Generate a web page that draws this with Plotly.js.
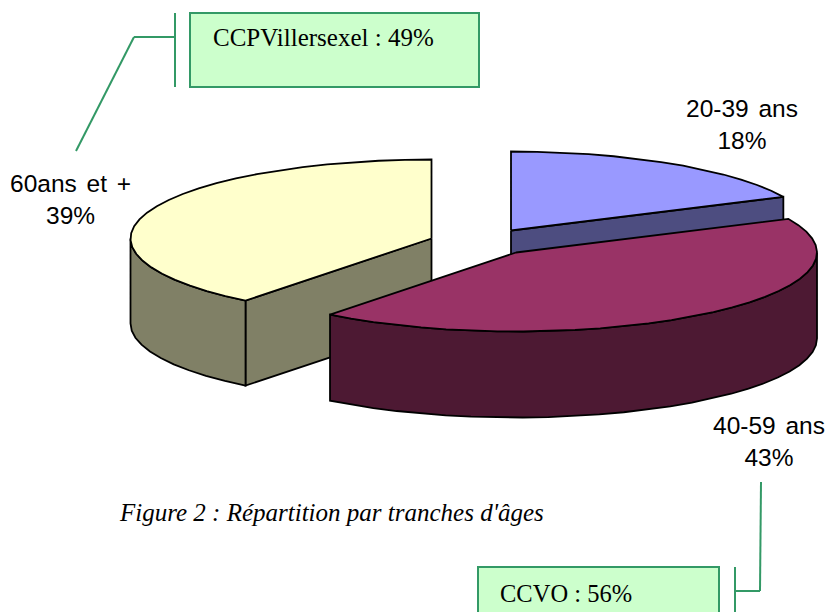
<!DOCTYPE html>
<html>
<head>
<meta charset="utf-8">
<script src="https://cdn.plot.ly/plotly-3.0.1.min.js"></script>
<style>
html,body{margin:0;padding:0;background:#fff;overflow:hidden}
#chart{width:825px;height:612px}
.annotation-text{word-spacing:3px}
.annotation-text[style*="Serif"]{word-spacing:0}
</style>
</head>
<body>
<div id="chart"></div>
<script>
// Data
var categories = ['20-39 ans', '40-59 ans', '60ans et +'];
var shares = [18, 42.6, 39.4];
var callouts = ['CCPVillersexel : 49%', 'CCVO : 56%'];
var caption = "Figure 2 : Répartition par tranches d'âges";

// Styles
var topColors = ['#9999FF', '#993366', '#FFFFCC'];
var sideColors = ['#4D4D80', '#4D1933', '#808066'];
var boxFill = '#CCFFCC', boxLine = '#339966';
var labelFont = {family: '"Liberation Sans", Arial, sans-serif', size: 24.5, color: '#000'};
var serif = '"Liberation Serif", "Times New Roman", serif';

// Pie projection: each exploded slice has its own centre on the page
var sliceCx = [511, 516, 431.5], sliceCy = [230.5, 252.5, 238.5];
var radiusX = 301, radiusY = 79, depth = 85;
var STEP = 5;

function pt(i, deg, dy) {
  var r = deg * Math.PI / 180;
  return [sliceCx[i] + radiusX * Math.sin(r), sliceCy[i] - radiusY * Math.cos(r) + (dy || 0)];
}
function arc(i, a0, a1, dy) {
  var out = [], n = Math.max(1, Math.round(Math.abs(a1 - a0) / STEP));
  for (var k = 0; k <= n; k++) out.push(pt(i, a0 + (a1 - a0) * k / n, dy));
  return out;
}
function poly(points, color) {
  var xs = points.map(function (p) { return p[0]; });
  var ys = points.map(function (p) { return p[1]; });
  xs.push(xs[0]); ys.push(ys[0]);
  return {x: xs, y: ys, type: 'scatter', mode: 'lines', fill: 'toself', fillcolor: color,
    line: {color: '#000', width: 1.8}, hoverinfo: 'skip', showlegend: false};
}

var total = shares.reduce(function (a, b) { return a + b; }, 0), cum = 0;
var spans = shares.map(function (v) {
  var s = [cum / total * 360, (cum + v) / total * 360]; cum += v; return s;
});
function centre(i, dy) { return [sliceCx[i], sliceCy[i] + (dy || 0)]; }

var traces = [];
// 60 ans et + (back-left, drawn first)
(function () {
  var i = 2, a0 = spans[i][0], a1 = spans[i][1];
  traces.push(poly([centre(i), pt(i, a0), pt(i, a0, depth), centre(i, depth)], sideColors[i]));
  traces.push(poly(arc(i, a0, 270).concat(arc(i, 270, a0, depth)), sideColors[i]));
  traces.push(poly([centre(i)].concat(arc(i, a0, a1)), topColors[i]));
})();
// 20-39 ans
(function () {
  var i = 0, a0 = spans[i][0], a1 = spans[i][1];
  traces.push(poly([centre(i), pt(i, a1), pt(i, a1, depth), centre(i, depth)], sideColors[i]));
  traces.push(poly([centre(i)].concat(arc(i, a0, a1)), topColors[i]));
})();
// 40-59 ans (front, drawn last)
(function () {
  var i = 1, a0 = spans[i][0], a1 = spans[i][1];
  traces.push(poly(arc(i, 90, a1, 0).concat(arc(i, a1, 90, depth + 1)), sideColors[i]));
  traces.push(poly([centre(i)].concat(arc(i, a0, a1)), topColors[i]));
})();

function pct(i) { return categories[i] + '<br>' + Math.round(shares[i]) + '%'; }
function note(text, x, y, font, xanchor) {
  return {text: text, x: x, y: y, xref: 'x', yref: 'y', showarrow: false, font: font,
    xanchor: xanchor || 'center', yanchor: 'middle', align: 'center', borderpad: 0};
}
var annotations = [
  note(pct(0), 742, 124, labelFont),
  note(pct(1), 769, 441, labelFont),
  note(pct(2), 70, 199, labelFont),
  note(callouts[0], 212, 37, {family: serif, size: 25, color: '#000'}, 'left'),
  note(callouts[1], 499, 593, {family: serif, size: 24.5, color: '#000'}, 'left'),
  note('<i>' + caption + '</i>', 118, 512, {family: serif, size: 25, color: '#000'}, 'left')
];

function seg(x0, y0, x1, y1) {
  return {type: 'line', xref: 'x', yref: 'y', x0: x0, y0: y0, x1: x1, y1: y1,
    line: {color: boxLine, width: 2}};
}
function box(x0, y0, x1, y1) {
  return {type: 'rect', xref: 'x', yref: 'y', x0: x0, y0: y0, x1: x1, y1: y1,
    fillcolor: boxFill, line: {color: boxLine, width: 2}};
}
var shapes = [
  box(190, 13, 479, 87), seg(175, 13, 175, 87), seg(175, 37, 134, 37), seg(134, 37, 76, 151),
  box(478, 567, 719, 640), seg(735, 567, 735, 640), seg(735, 591, 760, 591), seg(760, 591, 761, 482)
];

Plotly.newPlot('chart', traces, {
  width: 825, height: 612,
  margin: {l: 0, r: 0, t: 0, b: 0},
  paper_bgcolor: '#fff', plot_bgcolor: '#fff',
  xaxis: {range: [0, 825], visible: false, fixedrange: true},
  yaxis: {range: [612, 0], visible: false, fixedrange: true},
  showlegend: false, shapes: shapes, annotations: annotations
}, {staticPlot: true, displayModeBar: false});
</script>
</body>
</html>
